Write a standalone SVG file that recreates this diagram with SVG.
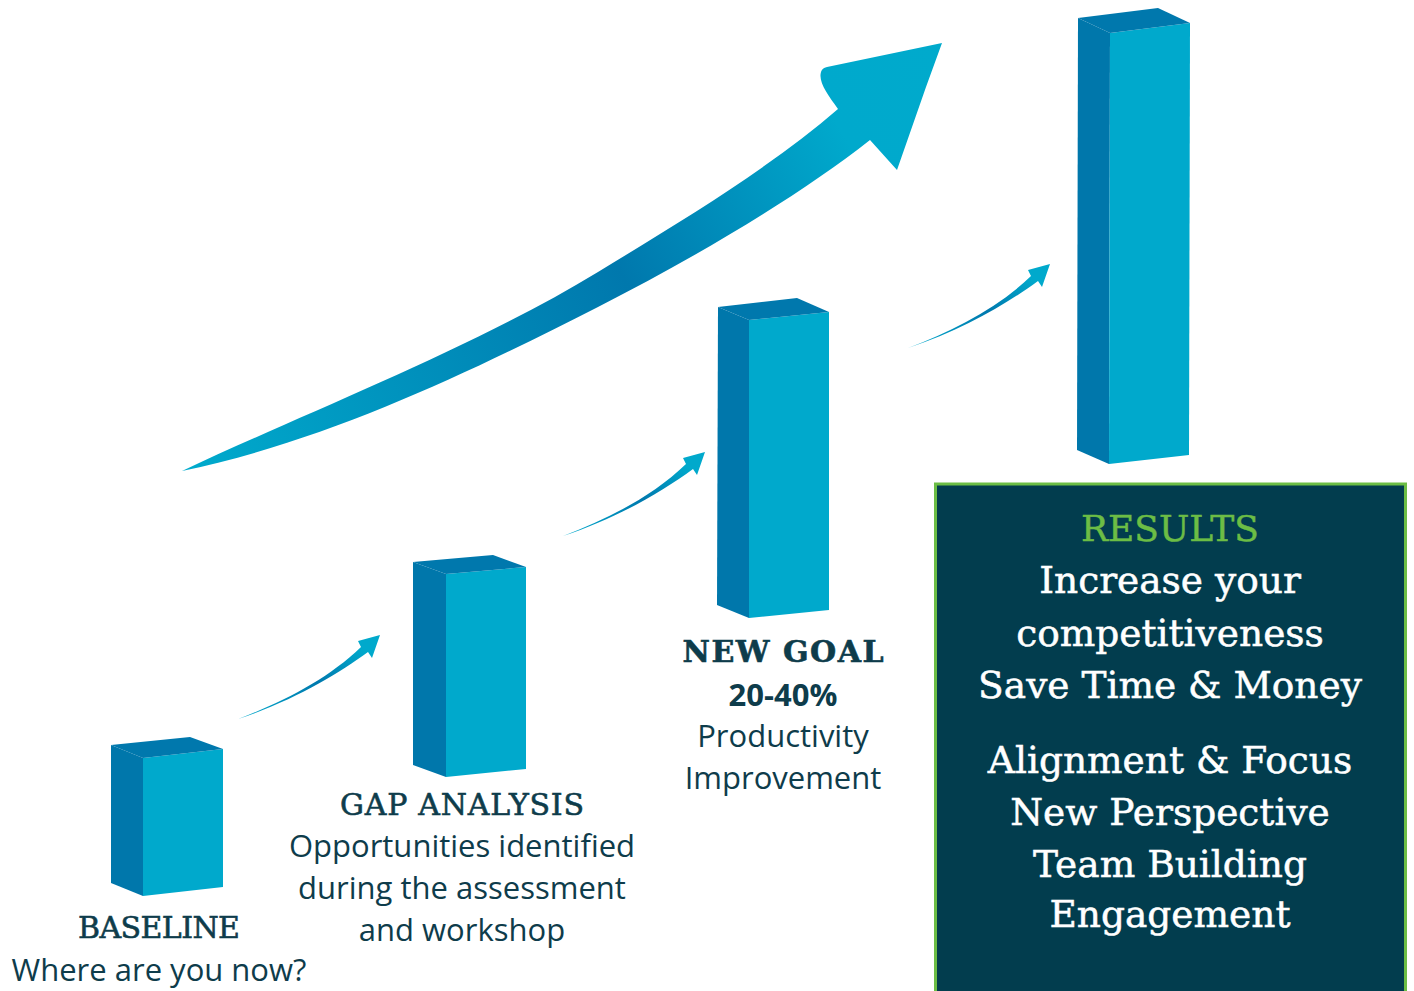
<svg xmlns="http://www.w3.org/2000/svg" width="1414" height="991" viewBox="0 0 1414 991">
<style>
.left{fill:#0077ab}
.front{fill:#00a9cc}
.top{fill:#0078ad}
.slab{font-family:"DejaVu Serif","Liberation Serif",serif;fill:#0e3c4b;stroke:#0e3c4b;stroke-width:0.6;text-anchor:middle}
.sans{font-family:"Open Sans","Noto Sans","Liberation Sans",sans-serif;fill:#0e3c4b;text-anchor:middle;font-size:31px}
.res{font-family:"DejaVu Serif","Liberation Serif",serif;fill:#ffffff;stroke:#ffffff;stroke-width:0.5;text-anchor:middle;font-size:37.5px}
</style>
<defs>
<linearGradient id="bigGrad" gradientUnits="userSpaceOnUse" x1="182" y1="471" x2="942" y2="43">
<stop offset="0" stop-color="#00abcd"/>
<stop offset="0.55" stop-color="#0078ad"/>
<stop offset="0.85" stop-color="#00a9cc"/>
<stop offset="1" stop-color="#00aacc"/>
</linearGradient>
<linearGradient id="smallGrad" x1="0" y1="1" x2="1" y2="0">
<stop offset="0" stop-color="#00abcd"/>
<stop offset="0.5" stop-color="#0079ae"/>
<stop offset="0.85" stop-color="#00a9cc"/>
</linearGradient>
<path id="smallArrow" d="M0,0 C45,-17 90,-40 123,-72 L120,-78 L142,-84 L134,-61 L130,-67 C100,-45 55,-18 0,0 Z"/>
</defs>

<g id="connectors">
<path id="bigArrow" fill="url(#bigGrad)" d="M182,471 C300,415 470,350 598,272 C680,222 770,168 838,109 C828,95 818,82 821,72 Q822,68 827,67 L942,43 L926,87 L897,170 L870,140 C800,195 700,255 598,307 C470,372 330,440 182,471 Z"/>
<use href="#smallArrow" fill="url(#smallGrad)" transform="translate(238,719)"/>
<use href="#smallArrow" fill="url(#smallGrad)" transform="translate(563,536)"/>
<use href="#smallArrow" fill="url(#smallGrad)" transform="translate(908,348)"/>
</g>

<g id="bar-baseline">
<polygon class="left" points="111,745 143,758 143,896 111,883"/>
<polygon class="front" points="143,758 223,749 223,887 143,896"/>
<polygon class="top" points="111,745 190,737 223,749 143,758"/>
</g>
<g id="bar-gap">
<polygon class="left" points="413,562 446,574 446,777 413,765"/>
<polygon class="front" points="446,574 526,567 526,769 446,777"/>
<polygon class="top" points="413,562 493,555 526,567 446,574"/>
</g>
<g id="bar-newgoal">
<polygon class="left" points="718,307 749,320 749,618 717,605"/>
<polygon class="front" points="749,320 829,312 829,610 749,618"/>
<polygon class="top" points="718,307 797,298 829,312 749,320"/>
</g>
<g id="bar-results">
<polygon class="left" points="1078,18 1110,33 1109,464 1077,450"/>
<polygon class="front" points="1110,33 1190,23 1189,455 1109,464"/>
<polygon class="top" points="1078,18 1158,8 1190,23 1110,33"/>
</g>

<g id="label-baseline">
<text class="slab" x="159" y="938" font-size="30" textLength="162">BASELINE</text>
<text class="sans" x="159" y="981">Where are you now?</text>
</g>
<g id="label-gap">
<text class="slab" x="462" y="815" font-size="30" textLength="244">GAP ANALYSIS</text>
<text class="sans" x="462" y="857">Opportunities identified</text>
<text class="sans" x="462" y="899">during the assessment</text>
<text class="sans" x="462" y="941">and workshop</text>
</g>
<g id="label-newgoal">
<text class="slab" x="783" y="662" font-size="30" font-weight="bold" textLength="201">NEW GOAL</text>
<text class="sans" x="783" y="706" font-weight="bold">20-40%</text>
<text class="sans" x="783" y="747">Productivity</text>
<text class="sans" x="783" y="789">Improvement</text>
</g>
<g id="results-box">
<rect x="935.5" y="484" width="470" height="512" fill="#023d4e" stroke="#6cbd45" stroke-width="3"/>
<text x="1170" y="541" font-family="DejaVu Serif, Liberation Serif, serif" font-size="36" fill="#6cbd45" stroke="#6cbd45" stroke-width="0.5" text-anchor="middle">RESULTS</text>
<text class="res" x="1170" y="593">Increase your</text>
<text class="res" x="1170" y="646">competitiveness</text>
<text class="res" x="1170" y="698">Save Time &amp; Money</text>
<text class="res" x="1170" y="773">Alignment &amp; Focus</text>
<text class="res" x="1170" y="825">New Perspective</text>
<text class="res" x="1170" y="877">Team Building</text>
<text class="res" x="1170" y="927">Engagement</text>
</g>
</svg>
